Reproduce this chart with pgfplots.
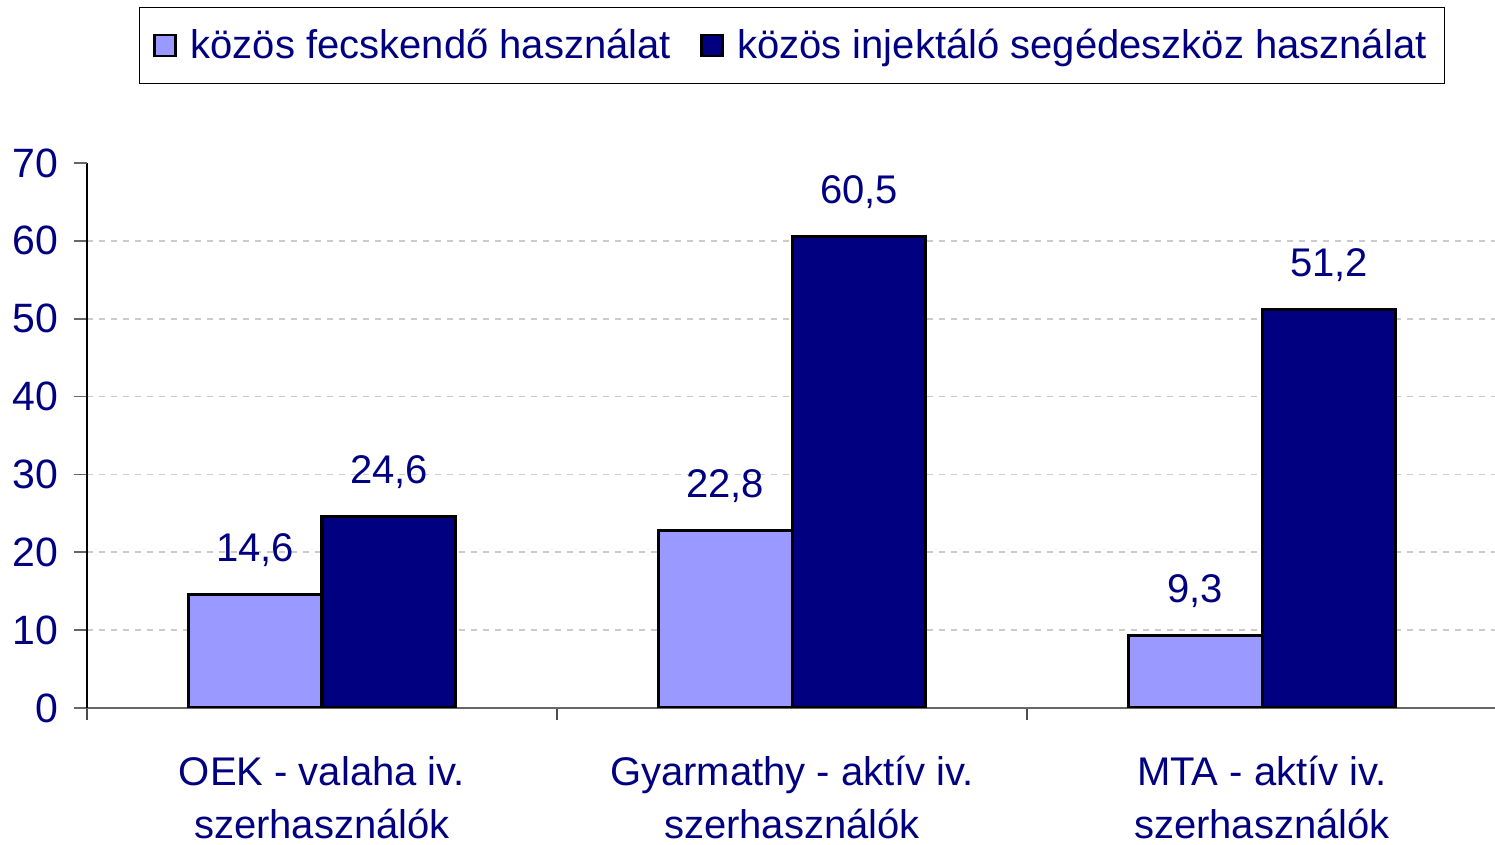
\documentclass[border=0pt]{standalone}
\usepackage{fontspec}
\setmainfont{Liberation Sans}
\usepackage{pgfplots}
\pgfplotsset{compat=1.18}
\definecolor{navytext}{RGB}{0,0,128}
\definecolor{lightbar}{RGB}{153,153,255}
\definecolor{darkbar}{RGB}{0,0,128}
\pgfplotsset{sqlegend/.style={legend image code/.code={\draw[##1,draw=black,line width=1.3pt] (0pt,-5.25pt) rectangle (10.5pt,5.25pt); \path[draw=none,fill=none] (0pt,0pt) -- (16pt,0pt);}}}
\begin{document}
\begin{tikzpicture}
\useasboundingbox (-43.5pt,-68.5pt) rectangle (704pt,354pt);
\begin{axis}[
  at={(0pt,0pt)}, anchor=south west,
  scale only axis, width=705pt, height=272.5pt,
  xmin=-0.5, xmax=2.5, ymin=0, ymax=70,
  ybar, bar width=0.285,
  axis x line*=bottom, axis y line*=left,
  x axis line style={-, draw=black!60, line width=0.8pt},
  y axis line style={-, draw=black, line width=0.8pt},
  ytick={0,10,...,60},
  extra y ticks={70},
  extra y tick style={grid=none},
  ymajorgrids,
  grid style={dashed, draw=black!20, line width=0.8pt},
  tick align=outside,
  major tick length=6.5pt,
  major y tick style={draw=black!60, line width=0.8pt},
  xtick={0,1,2},
  major x tick style={draw=none},
  minor xtick={-0.5,0.5,1.5,2.5},
  minor x tick style={draw=black!70, line width=0.8pt},
  minor tick length=6pt,
  xticklabels={OEK - valaha iv.\\szerhasználók, Gyarmathy - aktív iv.\\szerhasználók, MTA - aktív iv.\\szerhasználók},
  xticklabel style={align=center, font=\fontsize{20}{26.5}\selectfont, text=navytext, yshift=-14pt},
  yticklabel style={font=\fontsize{20.5}{24}\selectfont, text=navytext, xshift=-4.5pt},
  /pgf/number format/assume math mode=true,
  point meta=explicit symbolic,
  nodes near coords,
  every node near coord/.append style={font=\fontsize{20}{24}\selectfont, text=navytext, anchor=base, yshift=16.5pt},
  legend columns=2,
  legend style={at={(rel axis cs:0.5,1)}, anchor=center, yshift=58.75pt,
    draw=black, line width=0.6pt, font=\fontsize{20}{24}\selectfont, text=navytext,
    /tikz/every even column/.append style={column sep=12.5pt},
    inner xsep=7pt, inner ysep=8.75pt},
]
\addplot[fill=lightbar, draw=black, line width=1.5pt, bar shift=-0.1425, sqlegend] table[meta=label] {
x y label
0 14.6 14,6
1 22.8 22,8
2 9.3 9,3
};
\addlegendentry{közös fecskendő használat}
\addplot[fill=darkbar, draw=black, line width=1.5pt, bar shift=0.1425, sqlegend] table[meta=label] {
x y label
0 24.6 24,6
1 60.5 60,5
2 51.2 51,2
};
\addlegendentry{közös injektáló segédeszköz használat}
\end{axis}
\end{tikzpicture}
\end{document}
